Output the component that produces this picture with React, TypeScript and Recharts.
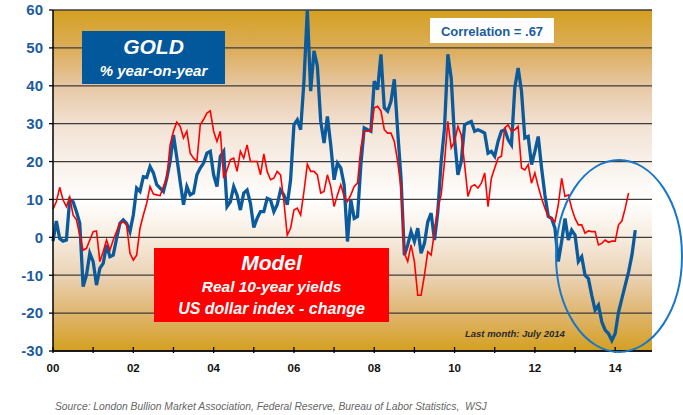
import { LineChart, Line, XAxis, YAxis, CartesianGrid } from 'recharts';

// gold price, % year-on-year, monthly from Jan 2000 to Jul 2014
const goldYoY = [
  -1, 4.3, -0.3, -1, -0.7, 10, 9.4, 6.8, 3.7, -13, -10, -4.2,
  -6.4, -12.6, -8.2, -6.9, -2, -5.1, -4.7, -0.3, 3.7, 4.6, 3.7, 1.5,
  5.9, 13, 12.1, 16, 15.8, 18.7, 17, 13.9, 13, 12.1, 15.6, 20,
  27, 21, 14.7, 8.6, 13.4, 11.2, 11.7, 16.5, 18.3, 19.6, 22.2, 22.7,
  16.5, 13.4, 21.4, 22.7, 8.1, 9.4, 13.4, 11.2, 7.2, 11.7, 12.5, 9,
  2.6, 5, 6.8, 6.8, 10.3, 9.9, 6.8, 8.6, 12.5, 11.2, 8.6, 15.2,
  29.7, 31, 28.4, 41.2, 60, 38.6, 49.2, 45.2, 30.6, 24.9, 31.9, 24.4,
  15.2, 19.6, 18.3, 13.9, -1.1, 9.9, 5, 5.5, 19.2, 28.9, 28.4, 28,
  41.2, 39, 48.3, 34.2, 33.3, 35.9, 41.7, 28, 15.6, -4.7, -2, 1.5,
  -1.1, 2.4, -4.2, -1.6, 4.1, 6.4, -0.7, 6.8, 20, 28.9, 48.3, 42,
  26, 16.5, 20, 29.7, 30.2, 30.6, 28, 28.4, 28, 27.5, 22.2, 22.7,
  21.4, 25.3, 28, 28.4, 25.8, 24.4, 39.5, 44.7, 38.6, 26.2, 26.6, 19.2,
  22.7, 26.6, 18.3, 11.2, 5.5, 5, 2.4, -6.4, -1.1, 5, -0.7, 1.9,
  0.6, -6.4, -5.1, -10, -10.9, -15.3, -19.2, -17.9, -22.3, -24.5, -25.4, -27.2,
  -25.4, -19.7, -16.2, -12.6, -9.1, -4.7, 1.9,
];

// model (real 10-year yields + US dollar index change)
const modelYoY = [
  7.5, 9.4, 13.2, 9.9, 8.1, 10.6, 5.9, 4.6, 0.6, -3.4, -2.9, -0.7,
  1.5, 1.7, -6.4, -3.8, -0.7, -3.4, -0.7, 1.5, 3.7, 4.1, 3.3, -4.2,
  -6, -4.7, 2.4, 5.9, 9, 13.4, 11.4, 11.2, 11, 13.4, 15.6, 24.4,
  28, 30.4, 29.3, 26.2, 28, 22.2, 20.9, 20, 29.7, 31.1, 32.8, 33.4,
  28, 25.3, 28, 15.6, 17.8, 20.5, 20.9, 17.4, 22.7, 20.9, 24.4, 20,
  20, 20, 16.5, 22, 17.4, 15.2, 15.6, 17.4, 16.5, 9.4, 0.6, 2.4,
  7.2, 7.7, 5.9, 12.1, 19.3, 17.4, 17.4, 16.5, 11.7, 12.1, 16.5, 13.4,
  8.1, 11.2, 13.9, 10.8, 9.4, 11.2, 13.4, 14.3, 23.6, 28, 28, 28,
  34.2, 34.6, 33.3, 28.4, 27.5, 27.5, 25.3, 20, 13, -4.2, -6.4, -2,
  -6.4, -15.3, -15.3, -10, -3.8, -4.7, 1.5, 7.7, 11.2, 20, 30.6, 23.6,
  25.3, 29.3, 27, 19.2, 10.8, 13.4, 13.9, 13, 14.3, 17, 8.1, 15.6,
  18.3, 20.9, 21.4, 28.9, 29.7, 28, 28.4, 29.3, 18.3, 17.8, 19.2, 14.3,
  17, 13.4, 10.3, 7.7, 5.5, 5, 4.1, 8.6, 15.6, 10.8, 11.2, 7.7,
  5, 3.3, 3.3, 1.1, 1.7, 1.5, 1.5, -2, -1.6, -0.7, -1.3, -1,
  -1, 3.3, 4.3, 7.7, 11.7,
];

const yearLabels = ['00', '', '02', '', '04', '', '06', '', '08', '', '10', '', '12', '', '14'];
const yTicks = [-30, -20, -10, 0, 10, 20, 30, 40, 50, 60];

const data = goldYoY.map((g, i) => ({
  m: i,
  gold: g,
  model: i < modelYoY.length ? modelYoY[i] : undefined,
}));

const FONT = '"Liberation Sans", Arial, sans-serif';
const BLUE = '#0B5A9C';

function YearTick(props: any) {
  const { x, y, payload } = props;
  const label = yearLabels[Math.round(payload.value / 12)];
  return (
    <g>
      <line x1={x} x2={x} y1={y - 4} y2={y + 2} stroke="#000" strokeWidth={1.3} />
      {label && (
        <text x={x} y={y + 21} textAnchor="middle" fontSize={11.5} fontWeight="bold" fill="#111" fontFamily={FONT}>
          {label}
        </text>
      )}
    </g>
  );
}

function Txt({ x, y, w, size, color, children, italic = true, bold = true, align = 'center' }: any) {
  return (
    <div
      style={{
        position: 'absolute',
        left: x,
        top: y,
        width: w,
        transform: 'translateY(-50%)',
        textAlign: align,
        fontSize: size,
        lineHeight: 1,
        color,
        fontStyle: italic ? 'italic' : 'normal',
        fontWeight: bold ? 'bold' : 'normal',
        whiteSpace: 'nowrap',
      }}
    >
      {children}
    </div>
  );
}

export default function App() {
  return (
    <div style={{ position: 'absolute', left: 0, top: 0, width: 683, height: 415, background: '#fff', fontFamily: FONT }}>
      <LineChart width={683} height={415} data={data} margin={{ top: 10, right: 31, bottom: 0, left: 0 }}>
        <defs>
          <linearGradient id="bgGrad" x1="0" y1="0" x2="0" y2="1">
            <stop offset="0" stopColor="#D4A020" />
            <stop offset="0.12" stopColor="#DCAE5E" />
            <stop offset="0.23" stopColor="#E8C9A8" />
            <stop offset="0.34" stopColor="#F2E2D4" />
            <stop offset="0.45" stopColor="#F9F1EA" />
            <stop offset="0.56" stopColor="#FFFFFF" />
            <stop offset="0.67" stopColor="#F6EBDD" />
            <stop offset="0.78" stopColor="#EBD2B4" />
            <stop offset="0.89" stopColor="#DFB56F" />
            <stop offset="1" stopColor="#D4A020" />
          </linearGradient>
        </defs>
        <CartesianGrid vertical={false} stroke="#3c3c3c" strokeWidth={1.3} fill="url(#bgGrad)" fillOpacity={1} />
        <XAxis
          dataKey="m"
          type="number"
          domain={[0, 179]}
          ticks={yearLabels.map((_, i) => i * 12)}
          interval={0}
          tickSize={0}
          tickMargin={0}
          height={64}
          axisLine={{ stroke: '#000', strokeWidth: 1.5 }}
          tickLine={false}
          tick={<YearTick />}
        />
        <YAxis
          type="number"
          domain={[-30, 60]}
          ticks={yTicks}
          interval={0}
          width={53}
          tickSize={4}
          tickMargin={6}
          axisLine={{ stroke: '#000', strokeWidth: 1.5 }}
          tickLine={{ stroke: '#000', strokeWidth: 1.3 }}
          tick={{ fill: '#1B5C9C', fontSize: 15, fontWeight: 'bold', fontFamily: FONT }}
        />
        <Line type="linear" dataKey="gold" stroke={BLUE} strokeWidth={3.3} dot={false} isAnimationActive={false} />
        <Line type="linear" dataKey="model" stroke="#FF0000" strokeWidth={1.6} dot={false} isAnimationActive={false} connectNulls={false} />
      </LineChart>

      <svg width={683} height={415} style={{ position: 'absolute', left: 0, top: 0, pointerEvents: 'none' }}>
        <ellipse cx={619} cy={256} rx={63} ry={96} fill="none" stroke="#1877C9" strokeWidth={2} />
      </svg>

      <div style={{ position: 'absolute', left: 82, top: 31, width: 143, height: 53, background: '#02589A' }} />
      <Txt x={82} y={46} w={143} size={21} color="#fff">GOLD</Txt>
      <Txt x={82} y={70} w={143} size={15} color="#fff">% year-on-year</Txt>

      <div style={{ position: 'absolute', left: 430, top: 18, width: 124, height: 25, background: '#fff' }} />
      <Txt x={430} y={31} w={124} size={13} color="#1B5C9C" italic={false}>Correlation = .67</Txt>

      <div style={{ position: 'absolute', left: 154, top: 248, width: 235, height: 74, background: '#FF0000' }} />
      <Txt x={154} y={262} w={235} size={21} color="#fff">Model</Txt>
      <Txt x={154} y={287} w={235} size={15.5} color="#fff">Real 10-year yields</Txt>
      <Txt x={154} y={309} w={235} size={16} color="#fff">US dollar index - change</Txt>

      <Txt x={465} y={334} w={98} size={9.5} color="#2a2a2a">Last month: July 2014</Txt>

      <Txt x={55} y={407} w={440} size={10.3} color="#666" bold={false} align="left">
        Source: London Bullion Market Association, Federal Reserve, Bureau of Labor Statistics,&nbsp; WSJ
      </Txt>
    </div>
  );
}
